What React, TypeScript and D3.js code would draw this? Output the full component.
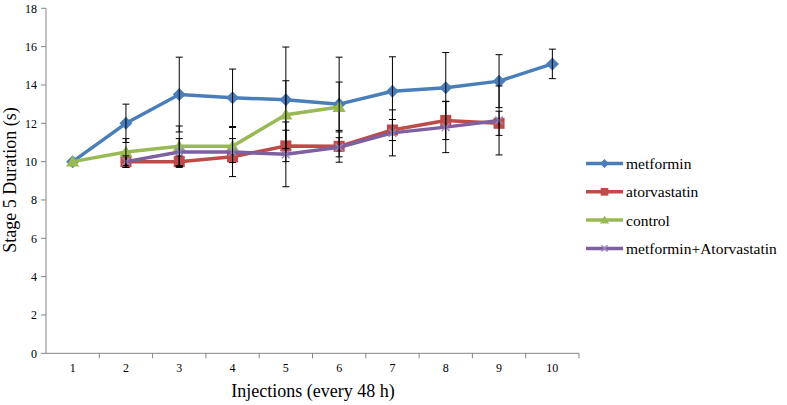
import React, { useEffect, useRef } from 'react';
import * as d3 from 'd3';

const categories = ['1', '2', '3', '4', '5', '6', '7', '8', '9', '10'];
const yTicks = [0, 2, 4, 6, 8, 10, 12, 14, 16, 18];

const seriesNames = ['metformin', 'atorvastatin', 'control', 'metformin+Atorvastatin'];
const metformin = [10, 12, 13.5, 13.33, 13.23, 13.0, 13.67, 13.86, 14.2, 15.1];
const metforminErr = [0, 1.0, 1.95, 1.5, 2.75, 2.45, 1.8, 1.83, 1.38, 0.77];
const atorvastatin = [null, 10, 10, 10.25, 10.82, 10.8, 11.65, 12.15, 12.0, null];
const atorvastatinErr = [0, 0.3, 0.3, 0.3, 0.82, 0.83, 0.55, 1.0, 0.63, 0];
const control = [10, 10.5, 10.8, 10.8, 12.45, 12.85, null, null, null, null];
const controlErr = [0, 0.7, 1.06, 0.4, 1.77, 1.3, 0, 0, 0, 0];
const combo = [null, 10, 10.5, 10.5, 10.38, 10.75, 11.5, 11.8, 12.15, null];
const comboErr = [0, 0.3, 0.7, 1.28, 1.69, 0.5, 1.2, 1.33, 1.8, 0];

const colors = ['#4a7ebb', '#be4b48', '#98b954', '#7d60a0'];
const shapes = ['diamond', 'square', 'triangle', 'x'];

function markerPath(shape: string, s: number) {
  const h = s / 2;
  if (shape === 'diamond') return `M0,${-h}L${h},0L0,${h}L${-h},0Z`;
  if (shape === 'square') return `M${-h * 0.85},${-h * 0.85}h${s * 0.85}v${s * 0.85}h${-s * 0.85}Z`;
  if (shape === 'triangle') return `M0,${-h}L${h},${h * 0.75}L${-h},${h * 0.75}Z`;
  return `M${-h * 0.7},${-h * 0.7}L${h * 0.7},${h * 0.7}M${-h * 0.7},${h * 0.7}L${h * 0.7},${-h * 0.7}`;
}

export default function App() {
  const ref = useRef<SVGSVGElement>(null);

  useEffect(() => {
    document.body.style.margin = '0';
    const svg = d3.select(ref.current);
    svg.selectAll('*').remove();

    const x = d3.scaleBand().domain(categories).range([46, 579]);
    const y = d3.scaleLinear().domain([0, 18]).range([353.3, 8.3]);
    const cx = (i: number) => (x(categories[i]) as number) + x.bandwidth() / 2;

    const axisColor = '#868686';
    const font = '"Liberation Serif", "Times New Roman", serif';

    // y axis
    const yAxis = svg.append('g');
    yAxis.append('line').attr('x1', 46).attr('x2', 46).attr('y1', y(18)).attr('y2', y(0))
      .attr('stroke', axisColor);
    yTicks.forEach((t) => {
      yAxis.append('line').attr('x1', 41).attr('x2', 46).attr('y1', y(t)).attr('y2', y(t))
        .attr('stroke', axisColor);
      yAxis.append('text').attr('x', 37).attr('y', y(t)).attr('dy', '0.35em')
        .attr('text-anchor', 'end').attr('font-family', font).attr('font-size', 12)
        .attr('fill', '#000').text(t);
    });

    // x axis
    const xAxis = svg.append('g');
    xAxis.append('line').attr('x1', 46).attr('x2', 579).attr('y1', y(0)).attr('y2', y(0))
      .attr('stroke', axisColor);
    categories.forEach((c, i) => {
      const bx = (x(c) as number) + x.bandwidth();
      xAxis.append('line').attr('x1', bx).attr('x2', bx).attr('y1', y(0)).attr('y2', y(0) + 5)
        .attr('stroke', axisColor);
      xAxis.append('text').attr('x', cx(i)).attr('y', 372).attr('text-anchor', 'middle')
        .attr('font-family', font).attr('font-size', 12).attr('fill', '#000').text(c);
    });

    svg.append('text').attr('x', 313).attr('y', 397).attr('text-anchor', 'middle')
      .attr('font-family', font).attr('font-size', 18).text('Injections (every 48 h)');
    svg.append('text').attr('transform', `translate(16,180) rotate(-90)`)
      .attr('text-anchor', 'middle').attr('font-family', font).attr('font-size', 18)
      .text('Stage 5 Duration (s)');

    const values = [metformin, atorvastatin, control, combo];
    const errs = [metforminErr, atorvastatinErr, controlErr, comboErr];

    const line = d3.line<number | null>()
      .defined((d) => d != null)
      .x((_, i) => cx(i))
      .y((d) => y(d as number));

    values.forEach((vals, si) => {
      const g = svg.append('g');
      g.append('path').datum(vals).attr('fill', 'none').attr('stroke', colors[si])
        .attr('stroke-width', 3.5).attr('stroke-linejoin', 'round').attr('d', line);
      vals.forEach((v, i) => {
        if (v == null) return;
        const shape = shapes[si];
        g.append('path').attr('transform', `translate(${cx(i)},${y(v)})`)
          .attr('d', markerPath(shape, shape === 'x' ? 11 : 13))
          .attr('fill', shape === 'x' ? 'none' : colors[si])
          .attr('stroke', shape === 'x' ? '#9b86bd' : 'none').attr('stroke-width', 1.5);
      });
      // error bars
      vals.forEach((v, i) => {
        const e = errs[si][i];
        if (v == null || !e) return;
        const px = cx(i);
        const top = y(v + e);
        const bot = y(v - e);
        g.append('line').attr('x1', px).attr('x2', px).attr('y1', top).attr('y2', bot)
          .attr('stroke', '#000').attr('stroke-width', 1);
        [top, bot].forEach((yy) => {
          g.append('line').attr('x1', px - 3.5).attr('x2', px + 3.5).attr('y1', yy).attr('y2', yy)
            .attr('stroke', '#000').attr('stroke-width', 1);
        });
      });
    });

    // legend
    const legend = svg.append('g');
    seriesNames.forEach((name, si) => {
      const ly = 163.5 + si * 28.3;
      legend.append('line').attr('x1', 586).attr('x2', 623).attr('y1', ly).attr('y2', ly)
        .attr('stroke', colors[si]).attr('stroke-width', 3.5);
      const shape = shapes[si];
      legend.append('path').attr('transform', `translate(604.5,${ly})`)
        .attr('d', markerPath(shape, shape === 'x' ? 9 : 9))
        .attr('fill', shape === 'x' ? 'none' : colors[si])
        .attr('stroke', shape === 'x' ? '#9b86bd' : 'none').attr('stroke-width', 1.5);
      legend.append('text').attr('x', 626).attr('y', ly).attr('dy', '0.35em')
        .attr('font-family', font).attr('font-size', 15.5).attr('fill', '#000').text(name);
    });
  }, []);

  return <svg ref={ref} width={787} height={405} style={{ display: 'block', background: '#fff' }}></svg>;
}
